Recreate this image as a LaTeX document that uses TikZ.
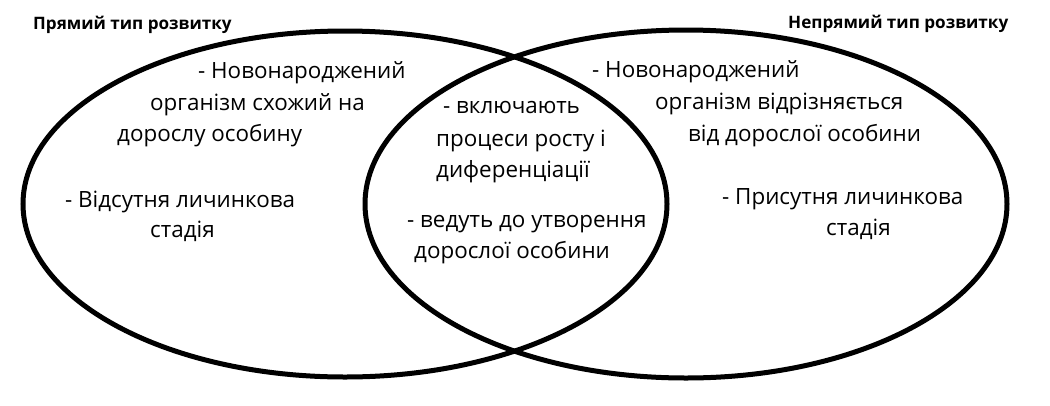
\documentclass[tikz,border=0pt]{standalone}
\usepackage{fontspec}
\setmainfont{Open Sans}
\begin{document}
\begin{tikzpicture}[x=1pt,y=-1pt,
  ring/.style={line width=5pt, draw=black},
  txt/.style={anchor=base west, inner sep=0pt, font=\fontsize{22.4}{26}\selectfont},
  ttl/.style={anchor=base west, inner sep=0pt, font=\fontsize{17.1}{20}\selectfont\bfseries}]
\useasboundingbox (0,0) rectangle (1050,405);
\draw[ring] (345,204) ellipse [x radius=322, y radius=173];
\draw[ring] (686,204) ellipse [x radius=321, y radius=174];
% titles
\node[ttl] (t1) at (33,29) {Прямий тип розвитку};
\node[ttl] (t2) at (788,28) {Непрямий тип розвитку};
% left
\node[txt] (l1) at (198,78) {- Новонароджений};
\node[txt] (l2) at (150,110) {організм схожий на};
\node[txt] (l3) at (117,141) {дорослу особину};
\node[txt] (l4) at (65,207) {- Відсутня личинкова};
\node[txt] (l5) at (150,237) {стадія};
% middle
\node[txt] (m1) at (443,113) {- включають};
\node[txt] (m2) at (436,146) {процеси росту і};
\node[txt] (m3) at (436,177) {диференціації};
\node[txt] (m4) at (407,227) {- ведуть до утворення};
\node[txt] (m5) at (414,258) {дорослої особини};
% right
\node[txt] (r1) at (592,77) {- Новонароджений};
\node[txt] (r2) at (655,109) {організм відрізняється};
\node[txt] (r3) at (688,141) {від дорослої особини};
\node[txt] (r4) at (722,204) {- Присутня личинкова};
\node[txt] (r5) at (826,235) {стадія};
\end{tikzpicture}
\end{document}
